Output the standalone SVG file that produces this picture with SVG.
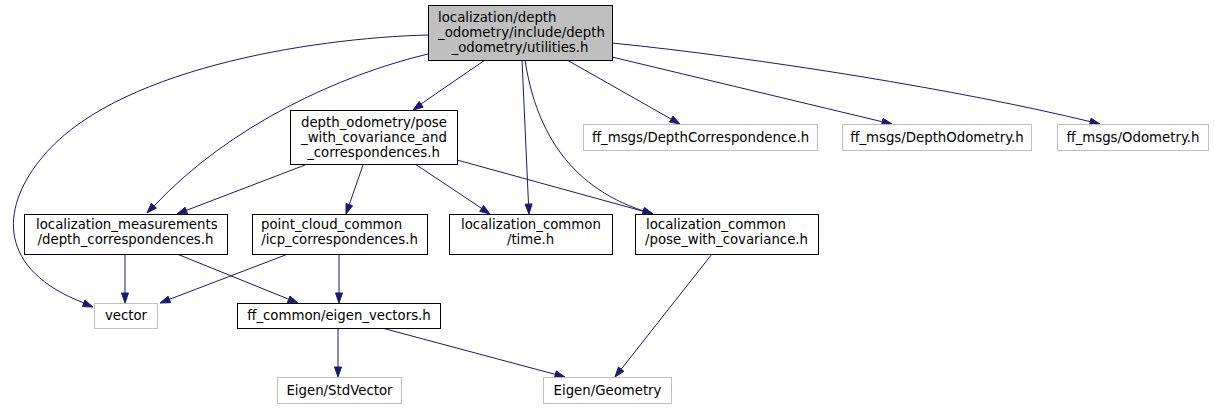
<svg xmlns="http://www.w3.org/2000/svg" width="1214" height="409" viewBox="0 0 1214 409">
<defs>
<style>
text{font-family:"DejaVu Sans","Liberation Sans",sans-serif;font-size:13.3px;fill:#000}
.m{text-anchor:middle}
.n rect{fill:#fff;stroke:#000;stroke-width:1}
.g rect{fill:#fff;stroke:#bfbfbf;stroke-width:1}
.top rect{fill:#bfbfbf;stroke:#000;stroke-width:1}
.e path{fill:none;stroke:#191970;stroke-width:1}
.e polygon{fill:#191970;stroke:#191970;stroke-width:1}
</style>
</defs>
<rect width="1214" height="409" fill="#fff"/>
<g class="e" id="edges">
<path d="M428,35 C310,38 110,70 40,160 C0,210 -2,270 84,303"/>
<polygon points="93,307 84.9,300.1 82.4,306.6"/>
<path d="M428,54 C340,75 230,125 154,206"/>
<polygon points="147,213 151.3,203.3 156.4,208.1"/>
<path d="M485,60 L421,104"/>
<polygon points="413,110 419.2,101.4 423.2,107.2"/>
<path d="M522,60 L528.5,204"/>
<polygon points="529,214 525.05,204.2 532.05,203.9"/>
<path d="M525,60 C535,125 565,185 643.5,211"/>
<polygon points="653,214 642.4,214.2 644.6,207.5"/>
<path d="M567,60 L671,119"/>
<polygon points="680,124 669.6,122.1 673,116"/>
<path d="M612,57 L882,121.7"/>
<polygon points="892,124 881.5,125.1 883.1,118.3"/>
<path d="M612,43 C760,58 960,90 1090,121.6"/>
<polygon points="1100,124 1089.5,125 1091.1,118.2"/>
<path d="M305,165 L186,210.5"/>
<polygon points="177,214 185.1,207.2 187.6,213.7"/>
<path d="M363,165 L349.3,204.5"/>
<polygon points="346,214 346,203.4 352.6,205.7"/>
<path d="M415,164 L481.7,208.4"/>
<polygon points="490,214 479.7,211.4 483.6,205.5"/>
<path d="M457,160 L643.4,211.3"/>
<polygon points="653,214 642.4,214.7 644.3,208"/>
<path d="M125,254 L125,293"/>
<polygon points="125,303 121.5,293 128.5,293"/>
<path d="M177,254 L288.7,299.2"/>
<polygon points="298,303 287.4,302.5 290,296"/>
<path d="M288,254 L169.3,299.4"/>
<polygon points="160,303 168.1,296.2 170.6,302.7"/>
<path d="M339,254 L339,293"/>
<polygon points="339,303 335.5,293 342.5,293"/>
<path d="M338,328 L338,367"/>
<polygon points="338,377 334.5,367 341.5,367"/>
<path d="M382,328 L555.3,374.4"/>
<polygon points="565,377 554.4,377.8 556.3,371"/>
<path d="M712,254 L621.2,369.2"/>
<polygon points="615,377 618.4,367 623.9,371.3"/>
</g>
<g id="n_top" class="top">
<rect x="428.5" y="5.5" width="184" height="55"/>
<text x="438" y="22">localization/depth</text>
<text x="438" y="37">_odometry/include/depth</text>
<text x="520" y="52" class="m">_odometry/utilities.h</text>
</g>
<g id="n_pose_corr" class="n">
<rect x="290.5" y="110.5" width="167" height="54"/>
<text x="301" y="127">depth_odometry/pose</text>
<text x="301" y="142">_with_covariance_and</text>
<text x="373.5" y="157" class="m">_correspondences.h</text>
</g>
<g id="n_depth_corr_msg" class="g">
<rect x="583.5" y="124.5" width="234" height="26"/>
<text x="700.5" y="142" class="m">ff_msgs/DepthCorrespondence.h</text>
</g>
<g id="n_depth_odom_msg" class="g">
<rect x="842.5" y="124.5" width="189" height="26"/>
<text x="937" y="142" class="m">ff_msgs/DepthOdometry.h</text>
</g>
<g id="n_odom_msg" class="g">
<rect x="1057.5" y="124.5" width="151" height="26"/>
<text x="1133" y="142" class="m">ff_msgs/Odometry.h</text>
</g>
<g id="n_loc_meas" class="n">
<rect x="24.5" y="214.5" width="203" height="40"/>
<text x="36" y="229">localization_measurements</text>
<text x="125.5" y="244" class="m">/depth_correspondences.h</text>
</g>
<g id="n_pcc" class="n">
<rect x="252.5" y="214.5" width="175" height="40"/>
<text x="261" y="229">point_cloud_common</text>
<text x="339.5" y="244" class="m">/icp_correspondences.h</text>
</g>
<g id="n_time" class="n">
<rect x="449.5" y="214.5" width="163" height="40"/>
<text x="461" y="229">localization_common</text>
<text x="530.5" y="244" class="m">/time.h</text>
</g>
<g id="n_pose_cov" class="n">
<rect x="635.5" y="214.5" width="183" height="40"/>
<text x="646" y="229">localization_common</text>
<text x="726.5" y="244" class="m">/pose_with_covariance.h</text>
</g>
<g id="n_vector" class="g">
<rect x="94.5" y="303.5" width="63" height="25"/>
<text x="126" y="320" class="m">vector</text>
</g>
<g id="n_eigen_vectors" class="n">
<rect x="237.5" y="303.5" width="203" height="25"/>
<text x="339" y="320" class="m">ff_common/eigen_vectors.h</text>
</g>
<g id="n_stdvector" class="g">
<rect x="277.5" y="377.5" width="124" height="26"/>
<text x="339.5" y="395" class="m">Eigen/StdVector</text>
</g>
<g id="n_geometry" class="g">
<rect x="543.5" y="377.5" width="128" height="26"/>
<text x="607.5" y="395" class="m">Eigen/Geometry</text>
</g>
</svg>
